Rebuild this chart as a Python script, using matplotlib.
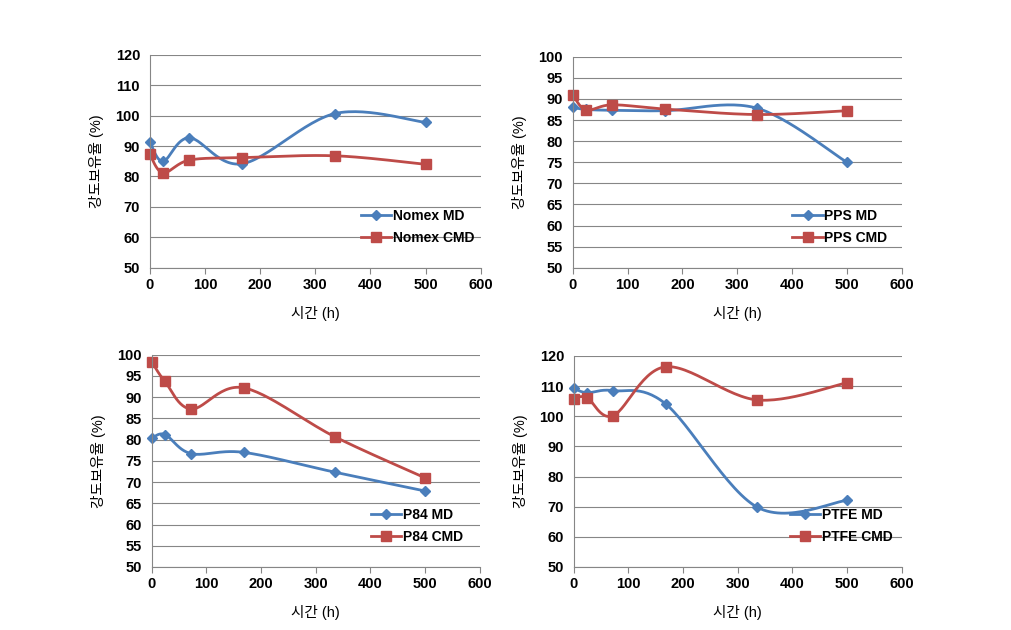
import numpy as np
import matplotlib
matplotlib.use('Agg')
import matplotlib.pyplot as plt

plt.rcParams['font.family'] = ['Liberation Sans', 'Noto Sans CJK KR']
plt.rcParams['font.weight'] = 'bold'

hours = [0, 24, 72, 168, 336, 500]

nomex_md = [91.5, 85.0, 92.7, 84.2, 100.7, 97.8]
nomex_cmd = [87.3, 81.2, 85.4, 86.2, 86.8, 84.0]
pps_md = [88.0, 87.5, 87.3, 87.2, 87.8, 75.0]
pps_cmd = [91.0, 87.4, 88.6, 87.6, 86.3, 87.2]
p84_md = [80.3, 81.2, 76.7, 77.0, 72.3, 67.9]
p84_cmd = [98.3, 93.7, 87.2, 92.2, 80.6, 71.0]
ptfe_md = [109.3, 107.8, 108.5, 104.1, 69.8, 72.1]
ptfe_cmd = [105.8, 106.2, 100.2, 116.4, 105.4, 111.1]

names = ['Nomex', 'PPS', 'P84', 'PTFE']
md_data = [nomex_md, pps_md, p84_md, ptfe_md]
cmd_data = [nomex_cmd, pps_cmd, p84_cmd, ptfe_cmd]
ylims = [(50, 120, 10), (50, 100, 5), (50, 100, 5), (50, 120, 10)]

BLUE = '#4A7EBB'
RED = '#BE4B48'


def smooth(x, y, n=30):
    # Excel-like smoothed line (Catmull-Rom bezier through the points)
    x = np.asarray(x, float)
    y = np.asarray(y, float)
    px = np.concatenate([[x[0]], x, [x[-1]]])
    py = np.concatenate([[y[0]], y, [y[-1]]])
    xs, ys = [], []
    t = np.linspace(0, 1, n)
    for i in range(1, len(px) - 2):
        p0 = np.array([px[i], py[i]])
        p3 = np.array([px[i + 1], py[i + 1]])
        c1 = p0 + (np.array([px[i + 1], py[i + 1]]) - np.array([px[i - 1], py[i - 1]])) / 6
        c2 = p3 - (np.array([px[i + 2], py[i + 2]]) - np.array([px[i], py[i]])) / 6
        b = ((1 - t) ** 3)[:, None] * p0 + (3 * (1 - t) ** 2 * t)[:, None] * c1 \
            + (3 * (1 - t) * t ** 2)[:, None] * c2 + (t ** 3)[:, None] * p3
        xs.extend(b[:, 0])
        ys.extend(b[:, 1])
    return xs, ys


fig = plt.figure(figsize=(10.12, 6.3), dpi=100)
positions = [[0.148, 0.575, 0.327, 0.338],
             [0.566, 0.575, 0.325, 0.335],
             [0.150, 0.100, 0.324, 0.337],
             [0.567, 0.100, 0.324, 0.335]]
legend_anchor = [(0.6, 0.05), (0.63, 0.05), (0.63, 0.05), (0.62, 0.05)]

for k in range(4):
    ax = fig.add_axes(positions[k])
    lo, hi, step = ylims[k]
    for y, col, mk, ms, lab in [(md_data[k], BLUE, 'D', 5, names[k] + ' MD'),
                                (cmd_data[k], RED, 's', 7, names[k] + ' CMD')]:
        sx, sy = smooth(hours, y)
        ax.plot(sx, sy, color=col, lw=2, clip_on=False)
        ax.plot(hours, y, linestyle='none', marker=mk, color=col, ms=ms, clip_on=False)
        ax.plot([], [], color=col, lw=2, marker=mk, ms=ms, label=lab)
    ax.set_xlim(0, 600)
    ax.set_ylim(lo, hi)
    ax.set_xticks(range(0, 601, 100))
    ax.set_yticks(np.arange(lo, hi + 0.1, step))
    ax.yaxis.grid(True, color='#868686', lw=0.8)
    ax.set_axisbelow(True)
    for s in ['top', 'right']:
        ax.spines[s].set_visible(False)
    for s in ['left', 'bottom']:
        ax.spines[s].set_color('#868686')
    ax.tick_params(axis='both', labelsize=10.5, colors='#868686', labelcolor='black', length=4)
    ax.tick_params(axis='y', length=0, pad=7)
    ax.set_xlabel('시간 (h)', fontsize=10.5, labelpad=10)
    ax.set_ylabel('강도보유율 (%)', fontsize=10.5, labelpad=8)
    ax.legend(loc='lower left', bbox_to_anchor=legend_anchor[k], frameon=False,
              fontsize=10, handlelength=2.2, handletextpad=0.1, labelspacing=0.55)

plt.savefig('out.png', dpi=100)
